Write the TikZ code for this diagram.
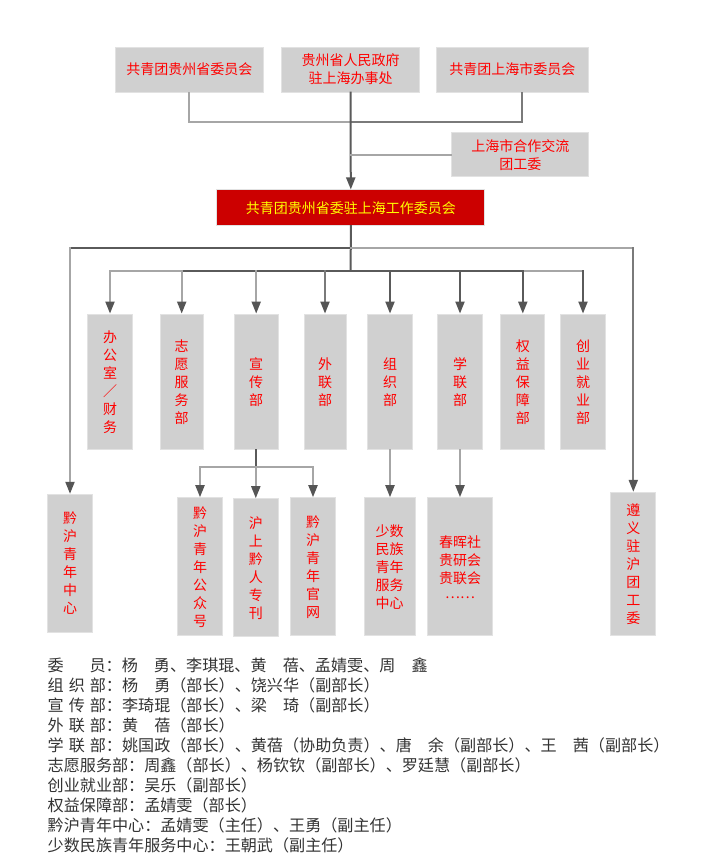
\documentclass[tikz,border=0pt]{standalone}
\usepackage{fontspec}
\setmainfont{Noto Sans CJK SC}
\usetikzlibrary{arrows.meta}
\definecolor{boxgray}{HTML}{D0D0D0}
\definecolor{boxedge}{HTML}{E2E2E2}
\definecolor{lightln}{HTML}{A6A6A6}
\definecolor{midln}{HTML}{7A7A7A}
\definecolor{darkln}{HTML}{5A5A5A}
\definecolor{arrowc}{HTML}{555555}
\definecolor{mainred}{HTML}{CC0000}
\definecolor{legtext}{HTML}{333333}
\begin{document}
\begin{tikzpicture}[x=1pt,y=-1pt,
  box/.style={draw=boxedge,line width=1pt,fill=boxgray,inner sep=0pt,align=center,text=red,font=\fontsize{14}{18}\selectfont},
  ln/.style={line width=2pt,draw=lightln,line cap=rect},
  md/.style={line width=2pt,draw=midln,line cap=rect},
  dk/.style={line width=2pt,draw=darkln,line cap=rect},
  arr/.style={-{Triangle[length=12pt,width=9pt,color=arrowc]}},
  leg/.style={anchor=west,inner sep=0pt,text=legtext,font=\fontsize{16.1}{20}\selectfont}]
\fill[white] (0,0) rectangle (703,860);
\useasboundingbox (0,0) rectangle (703,860);

% top boxes
\node[box,minimum width=147.3pt,minimum height=45pt] (t1) at (189.4,69.5) {共青团贵州省委员会};
\node[box,minimum width=137.3pt,minimum height=45pt] (t2) at (350.5,69.5) {贵州省人民政府\\驻上海办事处};
\node[box,minimum width=151.3pt,minimum height=45pt] (t3) at (512.4,69.5) {共青团上海市委员会};
\node[box,minimum width=137.3pt,minimum height=44pt] (co) at (520.3,154.7) {上海市合作交流\\团工委};
\node[box,draw=boxedge,fill=mainred,text={rgb,255:red,255;green,255;blue,0},minimum width=268.3pt,minimum height=35.7pt] (main) at (350.8,207.8) {共青团贵州省委驻上海工作委员会};

% departments
\node[box,minimum width=44.6pt,minimum height=135.3pt] (d1) at (110,381.7) {办\\公\\室\\／\\财\\务};
\node[box,minimum width=43.3pt,minimum height=135.3pt] (d2) at (181.7,381.7) {志\\愿\\服\\务\\部};
\node[box,minimum width=44.3pt,minimum height=135.3pt] (d3) at (256.2,381.7) {宣\\传\\部};
\node[box,minimum width=42pt,minimum height=135.3pt] (d4) at (325,381.7) {外\\联\\部};
\node[box,minimum width=44.6pt,minimum height=135.3pt] (d5) at (390,381.7) {组\\织\\部};
\node[box,minimum width=44.6pt,minimum height=135.3pt] (d6) at (460,381.7) {学\\联\\部};
\node[box,minimum width=44.3pt,minimum height=135.3pt] (d7) at (522.8,381.7) {权\\益\\保\\障\\部};
\node[box,minimum width=44.6pt,minimum height=135.3pt] (d8) at (583,381.7) {创\\业\\就\\业\\部};

% bottom row
\node[box,minimum width=44.6pt,minimum height=138.4pt] (qh) at (70,563.5) {黔\\沪\\青\\年\\中\\心};
\node[box,minimum width=44.6pt,minimum height=138pt] (p1) at (200,566.7) {黔\\沪\\青\\年\\公\\众\\号};
\node[box,minimum width=45pt,minimum height=138pt] (p2) at (255.8,567.7) {沪\\上\\黔\\人\\专\\刊};
\node[box,minimum width=44.6pt,minimum height=138pt] (p3) at (313,566.7) {黔\\沪\\青\\年\\官\\网};
\node[box,minimum width=50.7pt,minimum height=138pt] (mz) at (389.7,566.7) {少数\\民族\\青年\\服务\\中心};
\node[box,minimum width=65.4pt,minimum height=138.3pt] (ch) at (460,566.8) {春晖社\\贵研会\\贵联会\\[-3pt]……};
\node[box,minimum width=45.3pt,minimum height=143.4pt] (zy) at (633.3,564) {遵\\义\\驻\\沪\\团\\工\\委};

% connectors: top
\coordinate (j) at (350.7,121.7);
\coordinate (j3) at (521.7,121.7);
\draw[ln] (t1.south) -- (t1.south |- j) -- (j);
\draw[md] (j) -- (j3) -- (t3.south -| j3);
\draw[dk,arr] (t2.south) -- (main.north);
\draw[ln] (co.west) -- (co.west -| j);

% trunk to departments
\coordinate (b) at (350.7,270.7);
\coordinate (o) at (350.7,248.3);
\draw[dk] (main.south) -- (b);
\draw[ln] (b -| d1.north) -- (b -| d2.north);
\draw[dk] (b -| d2.north) -- (b -| d7.north);
\draw[ln] (b -| d7.north) -- (b -| d8.north);
\draw[ln,arr] (b -| d1.north) -- (d1.north);
\draw[ln,arr] (b -| d2.north) -- (d2.north);
\draw[ln,arr] (b -| d3.north) -- (d3.north);
\draw[md,arr] (b -| d4.north) -- (d4.north);
\draw[dk,arr] (b -| d5.north) -- (d5.north);
\draw[dk,arr] (b -| d6.north) -- (d6.north);
\draw[dk,arr] (b -| d7.north) -- (d7.north);
\draw[dk,arr] (b -| d8.north) -- (d8.north);

% outer loop
\draw[dk] (o) -- (o -| qh.north);
\draw[ln,arr] (o -| qh.north) -- (qh.north);
\draw[ln] (o) -- (o -| zy.north);
\draw[md,arr] (o -| zy.north) -- (zy.north);

% sub-branches
\coordinate (c) at (256,467.3);
\draw[dk] (d3.south) -- (d3.south |- c);
\draw[ln] (c -| p1.north) -- (c -| p3.north);
\draw[ln,arr] (c -| p1.north) -- (p1.north);
\draw[ln,arr] (c -| p2.north) -- (p2.north);
\draw[ln,arr] (c -| p3.north) -- (p3.north);
\draw[ln,arr] (d5.south) -- (d5.south |- mz.north);
\draw[ln,arr] (d6.south) -- (d6.south |- ch.north);

% legend
\node[leg] (l1) at (47.5,665) {委\hspace{25.8pt}员：杨\hspace{1em}勇、李琪琨、黄\hspace{1em}蓓、孟婧雯、周\hspace{1em}鑫};
\node[leg] (l2) at (47.5,685) {组\hspace{5pt}织\hspace{5pt}部：杨\hspace{1em}勇（部长）、饶兴华（副部长）};
\node[leg] (l3) at (47.5,705) {宣\hspace{5pt}传\hspace{5pt}部：李琦琨（部长）、梁\hspace{1em}琦（副部长）};
\node[leg] (l4) at (47.5,725) {外\hspace{5pt}联\hspace{5pt}部：黄\hspace{1em}蓓（部长）};
\node[leg] (l5) at (47.5,745) {学\hspace{5pt}联\hspace{5pt}部：姚国政（部长）、黄蓓（协助负责）、唐\hspace{1em}余（副部长）、王\hspace{1em}茜（副部长）};
\node[leg] (l6) at (47.5,765) {志愿服务部：周鑫（部长）、杨钦钦（副部长）、罗廷慧（副部长）};
\node[leg] (l7) at (47.5,785) {创业就业部：吴乐（副部长）};
\node[leg] (l8) at (47.5,805) {权益保障部：孟婧雯（部长）};
\node[leg] (l9) at (47.5,825) {黔沪青年中心：孟婧雯（主任）、王勇（副主任）};
\node[leg] (l10) at (47.5,845) {少数民族青年服务中心：王朝武（副主任）};
\end{tikzpicture}
\end{document}
